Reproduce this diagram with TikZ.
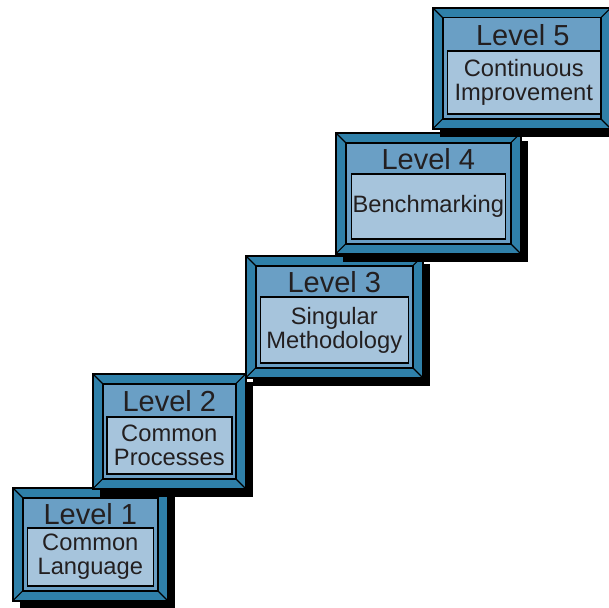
\documentclass[tikz,border=0pt]{standalone}
\usepackage{fontspec}
\setmainfont{Liberation Sans}
\usepackage{xcolor}
\usepackage{tikz}
\usetikzlibrary{positioning,calc,shadows}
\definecolor{bevelblue}{RGB}{47,128,169}
\definecolor{faceblue}{RGB}{106,159,197}
\definecolor{boxblue}{RGB}{166,196,220}
\definecolor{textgray}{RGB}{35,31,32}

\begin{document}
\begin{tikzpicture}[
x=1pt,y=-1pt,
stepframe/.style={draw=black,line width=1.6pt,fill=bevelblue,inner sep=0pt,anchor=north west,
  drop shadow={shadow xshift=7pt,shadow yshift=-8pt,fill=black,opacity=1},
  path picture={
    \draw[line width=1.4pt,fill=faceblue]
      ([shift={(10pt,10pt)}]path picture bounding box.south west) rectangle
      ([shift={(-10pt,-10pt)}]path picture bounding box.north east);
    \draw[line width=1.2pt] (path picture bounding box.south west) -- ++(10pt,10pt);
    \draw[line width=1.2pt] (path picture bounding box.north west) -- ++(10pt,-10pt);
    \draw[line width=1.2pt] (path picture bounding box.south east) -- ++(-10pt,10pt);
    \draw[line width=1.2pt] (path picture bounding box.north east) -- ++(-10pt,-10pt);
  }},
stepbox/.style={draw=black,line width=1.4pt,fill=boxblue,align=center,inner sep=0pt,
  font=\fontsize{23.7}{24}\selectfont,text=textgray},
steplabel/.style={inner sep=0pt,font=\fontsize{29}{30}\selectfont,text=textgray}
]
\useasboundingbox (0,0) rectangle (609,607);

% level 1
\node[stepframe,minimum width=155pt,minimum height=113pt] (f1) at (12,487) {};
\node[stepbox,minimum width=126pt,minimum height=58pt,above=15pt of f1.south] (b1) {Common\\Language};
\node[steplabel] (l1) at ($(f1.north)!0.5!(b1.north)+(0pt,-7pt)$) {Level 1};

% level 2
\node[stepframe,minimum width=153pt,minimum height=115pt] (f2) at (92,373) {};
\node[stepbox,minimum width=125pt,minimum height=57pt,above=15pt of f2.south] (b2) {Common\\Processes};
\node[steplabel] (l2) at ($(f2.north)!0.5!(b2.north)+(0pt,-7pt)$) {Level 2};

% level 3
\node[stepframe,minimum width=177pt,minimum height=122pt] (f3) at (245,255) {};
\node[stepbox,minimum width=148pt,minimum height=66pt,above=15pt of f3.south] (b3) {Singular\\Methodology};
\node[steplabel] (l3) at ($(f3.north)!0.5!(b3.north)+(0pt,-7pt)$) {Level 3};

% level 4
\node[stepframe,minimum width=185pt,minimum height=121pt] (f4) at (335,132) {};
\node[stepbox,minimum width=154pt,minimum height=65pt,above=15pt of f4.south] (b4) {Benchmarking};
\node[steplabel] (l4) at ($(f4.north)!0.5!(b4.north)+(0pt,-7pt)$) {Level 4};

% level 5
\node[stepframe,minimum width=178pt,minimum height=121pt] (f5) at (432,7) {};
\node[stepbox,minimum width=153pt,minimum height=63pt,above=15pt of f5.south,xshift=2pt] (b5) {Continuous\\Improvement};
\node[steplabel] (l5) at ($(f5.north)!0.5!(b5.north)+(0pt,-7pt)$) {Level 5};
\end{tikzpicture}
\end{document}
